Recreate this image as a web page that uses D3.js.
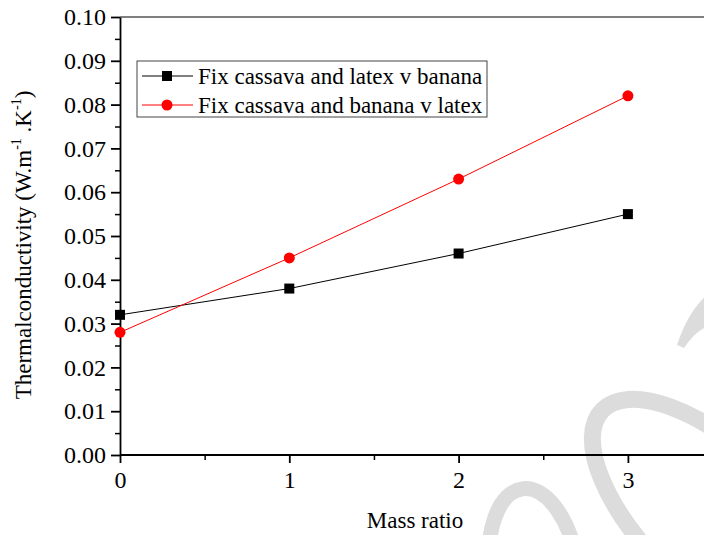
<!DOCTYPE html>
<html>
<head>
<meta charset="utf-8">
<script src="https://cdn.jsdelivr.net/npm/d3@7"></script>
<style>
  body { margin: 0; background: #fff; }
</style>
</head>
<body>
<svg id="chart" width="704" height="535"></svg>
<script>
const massRatio = [0, 1, 2, 3];
const bananaSeries = [0.032, 0.038, 0.046, 0.055];
const latexSeries = [0.028, 0.045, 0.063, 0.082];
const yTicks = [0, 0.01, 0.02, 0.03, 0.04, 0.05, 0.06, 0.07, 0.08, 0.09, 0.10];
const xTicks = [0, 1, 2, 3];
const legendLabels = ['Fix cassava and latex v banana', 'Fix cassava and banana v latex'];

const serif = 'Liberation Serif';
const margin = { top: 17, left: 120 };
const plotH = 438;
const unitW = 169.3;

const svg = d3.select('#chart');

// faint watermark in the lower right corner
const wm = svg.append('g').attr('fill', 'none').attr('stroke', '#dcdcdc');
wm.append('ellipse')
  .attr('cx', 716).attr('cy', 520).attr('rx', 158).attr('ry', 70)
  .attr('transform', 'rotate(44,716,520)')
  .attr('stroke-width', 17);
wm.append('ellipse')
  .attr('cx', 534).attr('cy', 572).attr('rx', 44).attr('ry', 84)
  .attr('transform', 'rotate(-8,534,572)')
  .attr('stroke-width', 15);
wm.append('path')
  .attr('d', 'M677,345 Q688,312 706,296 L706,327 Q694,333 684,348 Z')
  .attr('fill', '#dcdcdc').attr('stroke', 'none');

const x = d3.scaleLinear().domain([0, 3.5]).range([margin.left, margin.left + 3.5 * unitW]);
const y = d3.scaleLinear().domain([0, 0.10]).range([margin.top + plotH, margin.top]);

// top frame line
svg.append('line')
  .attr('x1', x(0)).attr('x2', 704)
  .attr('y1', y(0.10)).attr('y2', y(0.10))
  .attr('stroke', '#555').attr('stroke-width', 1.5);

// y axis: minor then major ticks
const yMinor = svg.append('g').attr('transform', `translate(${x(0)},0)`);
yMinor.call(d3.axisLeft(y).tickValues(d3.range(0.005, 0.1, 0.01)).tickSize(5).tickFormat(''));
yMinor.selectAll('line').attr('stroke', '#000').attr('stroke-width', 1.5);
yMinor.select('.domain').remove();

const yMajor = svg.append('g').attr('transform', `translate(${x(0)},0)`);
yMajor.call(d3.axisLeft(y).tickValues(yTicks).tickSize(9).tickSizeOuter(0).tickPadding(5).tickFormat(d3.format('.2f')));
yMajor.attr('font-family', serif).attr('font-size', 24);
yMajor.selectAll('text').attr('fill', '#000');
yMajor.selectAll('line, path').attr('stroke', '#000').attr('stroke-width', 1.8);

// x axis
const xMinor = svg.append('g').attr('transform', `translate(0,${y(0)})`);
xMinor.call(d3.axisBottom(x).tickValues([0.5, 1.5, 2.5, 3.5]).tickSize(5).tickFormat(''));
xMinor.selectAll('line').attr('stroke', '#000').attr('stroke-width', 1.5);
xMinor.select('.domain').remove();

const xMajor = svg.append('g').attr('transform', `translate(0,${y(0)})`);
xMajor.call(d3.axisBottom(x).tickValues(xTicks).tickSize(8).tickPadding(8).tickFormat(d3.format('d')));
xMajor.attr('font-family', serif).attr('font-size', 24);
xMajor.select('.domain').attr('d', `M${x(0)},0H704`);
xMajor.selectAll('text').attr('fill', '#000');
xMajor.selectAll('line, path').attr('stroke', '#000').attr('stroke-width', 1.8);

// axis titles
svg.append('text')
  .attr('x', 415).attr('y', 528)
  .attr('text-anchor', 'middle')
  .attr('font-family', serif).attr('font-size', 23)
  .text('Mass ratio');

const yTitle = svg.append('text')
  .attr('transform', 'translate(31,245) rotate(-90)')
  .attr('text-anchor', 'middle')
  .attr('font-family', serif).attr('font-size', 23);
yTitle.append('tspan').text('Thermalconductivity (W.m');
yTitle.append('tspan').attr('dy', -10).attr('font-size', 14).text('-1');
yTitle.append('tspan').attr('dy', 10).text(' .K');
yTitle.append('tspan').attr('dy', -10).attr('font-size', 14).text('-1');
yTitle.append('tspan').attr('dy', 10).text(')');

// series
const line = d3.line().x((d, i) => x(massRatio[i])).y(d => y(d));

svg.append('path').datum(bananaSeries)
  .attr('d', line).attr('fill', 'none').attr('stroke', '#000').attr('stroke-width', 1);
svg.append('path').datum(latexSeries)
  .attr('d', line).attr('fill', 'none').attr('stroke', '#ff0000').attr('stroke-width', 1);

svg.append('g').selectAll('rect').data(bananaSeries).join('rect')
  .attr('x', (d, i) => x(massRatio[i]) - 5).attr('y', d => y(d) - 5)
  .attr('width', 10).attr('height', 10).attr('fill', '#000');
svg.append('g').selectAll('circle').data(latexSeries).join('circle')
  .attr('cx', (d, i) => x(massRatio[i])).attr('cy', d => y(d))
  .attr('r', 5.5).attr('fill', '#ff0000');

// legend
const legend = svg.append('g').attr('transform', 'translate(137,61)');
legend.append('rect')
  .attr('width', 350).attr('height', 56)
  .attr('fill', '#fff').attr('stroke', '#444').attr('stroke-width', 1);
const legendColors = ['#000', '#ff0000'];
legendLabels.forEach((label, i) => {
  const row = legend.append('g').attr('transform', `translate(0,${15 + i * 29})`);
  row.append('line').attr('x1', 5).attr('x2', 56).attr('stroke', legendColors[i]).attr('stroke-width', 1);
  if (i === 0) {
    row.append('rect').attr('x', 30 - 5).attr('y', -5).attr('width', 10).attr('height', 10).attr('fill', '#000');
  } else {
    row.append('circle').attr('cx', 30).attr('r', 5.5).attr('fill', '#ff0000');
  }
  row.append('text').attr('x', 61).attr('y', 7.5)
    .attr('font-family', serif).attr('font-size', 23).attr('fill', '#000')
    .text(label);
});
</script>
</body>
</html>
